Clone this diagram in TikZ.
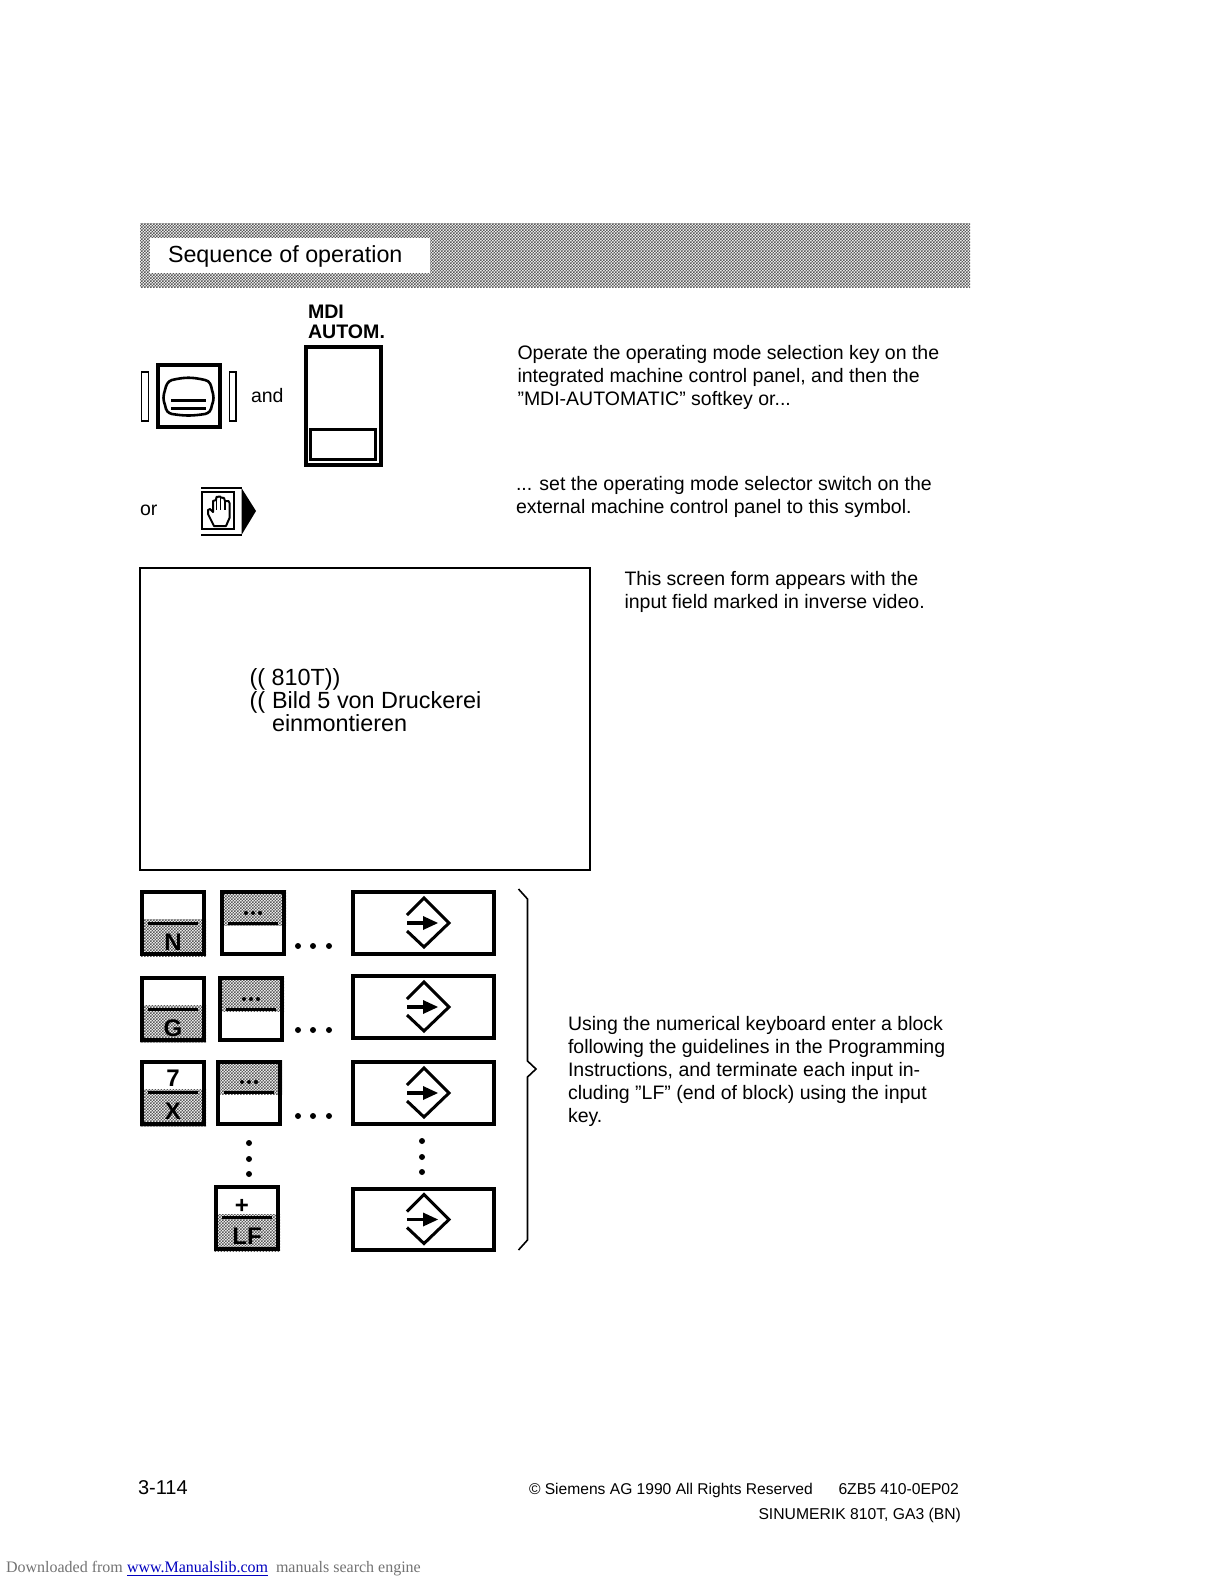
\documentclass[tikz,border=0pt]{standalone}
\usepackage{fontspec}
\setmainfont{Liberation Sans}
\newfontfamily\serifdl{Liberation Serif}
\usetikzlibrary{patterns}
\pgfdeclarepatternformonly{ditherfine}{\pgfqpoint{-0.1pt}{-0.1pt}}{\pgfqpoint{1.6pt}{1.6pt}}{\pgfqpoint{1.5pt}{1.5pt}}{%
  \pgfpathrectangle{\pgfqpoint{0pt}{0pt}}{\pgfqpoint{.75pt}{.75pt}}%
  \pgfpathrectangle{\pgfqpoint{.75pt}{.75pt}}{\pgfqpoint{.75pt}{.75pt}}%
  \pgfusepath{fill}}
\tikzset{
  x=0.5pt,y=-0.5pt,
  txt/.style={anchor=base west,inner sep=0pt,outer sep=0pt,font=\fontsize{9.75}{11.5}\selectfont,align=left},
  keylbl/.style={anchor=base,inner sep=0pt,font=\fontsize{12}{12}\bfseries\selectfont},
  keybox/.style={draw=black,line width=1.9pt,fill=none},
  thick line/.style={line width=1.5pt},
  shade area/.style={pattern=ditherfine,pattern color=black!65},
  dotmark/.style={fill=black,circle,inner sep=0pt,minimum size=3pt},
}
\newcommand{\enterkey}[3]{% name, top, bottom
  \node[keybox,draw,rectangle,minimum width=72.5pt-1.9pt,minimum height=0.5pt*(#3-#2)-1.9pt,inner sep=0pt] (#1) at (423.5,{(#2+#3)/2}) {};
  \begin{scope}[shift={(0,{(#2+#3)/2})}]
    \draw[thick line,line join=miter] (407,-8) -- (424,-25) -- (449,0) -- (424,24) -- (407,8);
    \draw[line width=1.6pt] (407,0) -- (425,0);
    \fill (423,-7) -- (438,0) -- (423,7) -- cycle;
  \end{scope}
}
\newcommand{\lowkey}[8]{% name x top shadeY lineY upper-label lower-label extra
  \fill[white] (#2,#3) rectangle ++(66,66);
  \fill[shade area] (#2,#4) rectangle ++(66,{#3+66-#4});
  \draw[thick line] ({#2+8},#5) -- ({#2+58},#5);
  \node[keybox,rectangle,minimum size=33pt-1.9pt,inner sep=0pt] (#1) at ({#2+33},{#3+33}) {};
  #6#7#8
}
\newcommand{\upkey}[4]{% name x top lineY
  \fill[shade area] (#2,#3) rectangle ++(66,{#4+2-#3});
  \draw[thick line] ({#2+8},#4) -- ({#2+58},#4);
  \node[keybox,rectangle,minimum size=33pt-1.9pt,inner sep=0pt] (#1) at ({#2+33},{#3+33}) {};
  \foreach \d in {-7,0,7} \fill ({#2+33+\d},{#4-10}) circle (2);
}
\newcommand{\threedots}[4]{% x1 x2 x3 y
  \node[dotmark] at (#1,#4) {}; \node[dotmark] at (#2,#4) {}; \node[dotmark] at (#3,#4) {};
}
\begin{document}
\begin{tikzpicture}
\useasboundingbox (0,0) rectangle (1224,1584);
\fill[white] (0,0) rectangle (1224,1584);
% header
\fill[shade area] (140,223) rectangle (970,287);
\fill[white] (150,238) rectangle (430,273);
\node[txt,font=\fontsize{11.65}{14}\selectfont] (title) at (168,262) {Sequence of operation};
% monitor
\node[draw,rectangle,minimum width=3.6pt,minimum height=24.5pt,inner sep=0pt,line width=.8pt] (slitl) at (145,396.5) {};
\node[draw,rectangle,minimum width=3.2pt,minimum height=24.5pt,inner sep=0pt,line width=.8pt] (slitr) at (232.5,396.5) {};
\node[keybox,rectangle,minimum size=33pt-1.9pt,inner sep=0pt] (monitor) at (189,396) {};
\draw[line width=1.3pt] (172,380) .. controls (185,377) and (192,377) .. (205,380)
   .. controls (210,381) and (211,385) .. (212,390) .. controls (214,396) and (214,400) .. (212,405)
   .. controls (211,411) and (209,413) .. (205,414) .. controls (192,416) and (185,416) .. (172,414)
   .. controls (168,413) and (166,411) .. (165,405) .. controls (163,400) and (163,396) .. (165,390)
   .. controls (166,385) and (168,381) .. (172,380) -- cycle;
\draw[line width=1.5pt] (171,400) -- (206,400);
\draw[line width=1.5pt] (171,408) -- (206,408);
\node[txt] (and) at (251,402) {and};
\node[txt,font=\fontsize{9.8}{10.5}\bfseries\selectfont] (mdi) at (308,318) {MDI};
\node[txt,font=\fontsize{9.8}{10.5}\bfseries\selectfont] (autom) at (308,338.5) {AUTOM.};
\node[keybox,rectangle,minimum width=39.5pt-1.9pt,minimum height=61pt-1.9pt,inner sep=0pt] (softkey) at (343.5,406) {};
\node[draw,line width=1.6pt,rectangle,minimum width=34pt-1.6pt,minimum height=16.5pt-1.6pt,inner sep=0pt] (softinner) at (343,444.5) {};
% or / hand
\node[txt] (or) at (140,515) {or};
\draw[line width=1.2pt] (201,488) -- (242,488);
\draw[line width=1.4pt] (201,535) -- (242,535);
\node[draw,line width=1pt,rectangle,minimum width=16pt,minimum height=18.5pt,inner sep=0pt] (handbox) at (218,510.5) {};
\fill (241.5,488) -- (256,511) -- (241.5,535) -- cycle;
\draw[line width=1pt,line join=round,fill=white] (214,526) -- (208,514) -- (208,510) -- (210,509) -- (213,512) -- (213,501) -- (216,500) -- (216.5,497) -- (220,496.5) -- (221,497.5) -- (224,498) -- (225,501) -- (228.5,501) -- (229.5,503) -- (229.5,518) -- (226,526) -- cycle;
\draw[line width=.8pt] (216.5,497) -- (216.5,510) (220.5,497) -- (220.5,510) (224.7,501) -- (224.7,510);
% right text
\node[txt] (t1) at (517.5,405.5) {Operate the operating mode selection key on the\\integrated machine control panel, and then the\\”MDI-AUTOMATIC” softkey or...};
\node[txt] (t2) at (516,513) {... set the operating mode selector switch on the\\external machine control panel to this symbol.};
\node[txt] (t3) at (624.5,608) {This screen form appears with the\\input field marked in inverse video.};
% screen
\node[draw,line width=.8pt,rectangle,minimum width=226pt-.8pt,minimum height=152pt-.8pt,inner sep=0pt] (screen) at (365,719) {};
\node[txt,font=\fontsize{11.7}{11.5}\selectfont] (s1) at (249.5,685) {(( 810T))};
\node[txt,font=\fontsize{11.7}{11.5}\selectfont] (s2) at (249.5,708) {((};
\node[txt,font=\fontsize{11.7}{11.5}\selectfont] (s3) at (272,731) {Bild 5 von Druckerei\\einmontieren};
% keys row 1
\lowkey{kn}{140}{890}{919}{923}{\node[keylbl] (ln) at (173,950) {N};}{}{}{}
\upkey{kn2}{220}{890}{923}
\threedots{298}{313}{329}{946}
\enterkey{e1}{890}{956}
% row 2
\lowkey{kg}{140}{976}{1005}{1009}{\node[keylbl] (lg) at (173,1036) {G};}{}{}{}
\upkey{kg2}{218}{976}{1009}
\threedots{298}{313}{329}{1030}
\enterkey{e2}{974}{1040}
% row 3
\lowkey{kx}{140}{1060}{1089}{1092}{\node[keylbl] (l7) at (173,1086) {7};}{\node[keylbl] (lx) at (173,1119) {X};}{}{}
\upkey{kx2}{216}{1060}{1092}
\threedots{298}{313}{329}{1116}
\enterkey{e3}{1060}{1126}
% vertical dots
\node[dotmark] (v1) at (249,1143) {}; \node[dotmark] (v2) at (249,1159) {}; \node[dotmark] (v3) at (249,1174) {};
\node[dotmark] (w1) at (422,1141) {}; \node[dotmark] (w2) at (422,1157) {}; \node[dotmark] (w3) at (422,1172) {};
% LF
\lowkey{klf}{214}{1185}{1214}{1217}{\node[keylbl] (lp) at (242,1213) {+};}{\node[keylbl] (llf) at (247,1244) {LF};}{}{}
\enterkey{e4}{1187}{1252}
% brace
\draw[line width=.8pt] (518.5,889) -- (527.5,899) -- (527.5,1061) -- (536,1069) -- (527.5,1077) -- (527.5,1240) -- (518.5,1250);
\node[txt] (t4) at (568,1122) {Using the numerical keyboard enter a block\\following the guidelines in the Programming\\Instructions, and terminate each input in-\\cluding ”LF” (end of block) using the input\\key.};
% footer
\node[txt,font=\fontsize{10}{11.5}\selectfont] (page) at (138,1494) {3-114};
\node[txt,font=\fontsize{7.8}{10}\selectfont] (copy) at (529,1494) {© Siemens AG 1990 All Rights Reserved};
\node[txt,font=\fontsize{7.85}{10}\selectfont] (num) at (838.5,1494) {6ZB5 410-0EP02};
\node[txt,font=\fontsize{7.85}{10}\selectfont] (sin) at (758.5,1519) {SINUMERIK 810T, GA3 (BN)};
\node[txt,font=\fontsize{8}{10}\serifdl\selectfont,text=black!55] (dl1) at (6,1572) {Downloaded from};
\node[txt,font=\fontsize{8}{10}\serifdl\selectfont,text=blue!75!black] (dl2) at (127,1572) {\underline{www.Manualslib.com}};
\node[txt,font=\fontsize{8}{10}\serifdl\selectfont,text=black!55] (dl3) at (276,1572) {manuals search engine};
\end{tikzpicture}
\end{document}
